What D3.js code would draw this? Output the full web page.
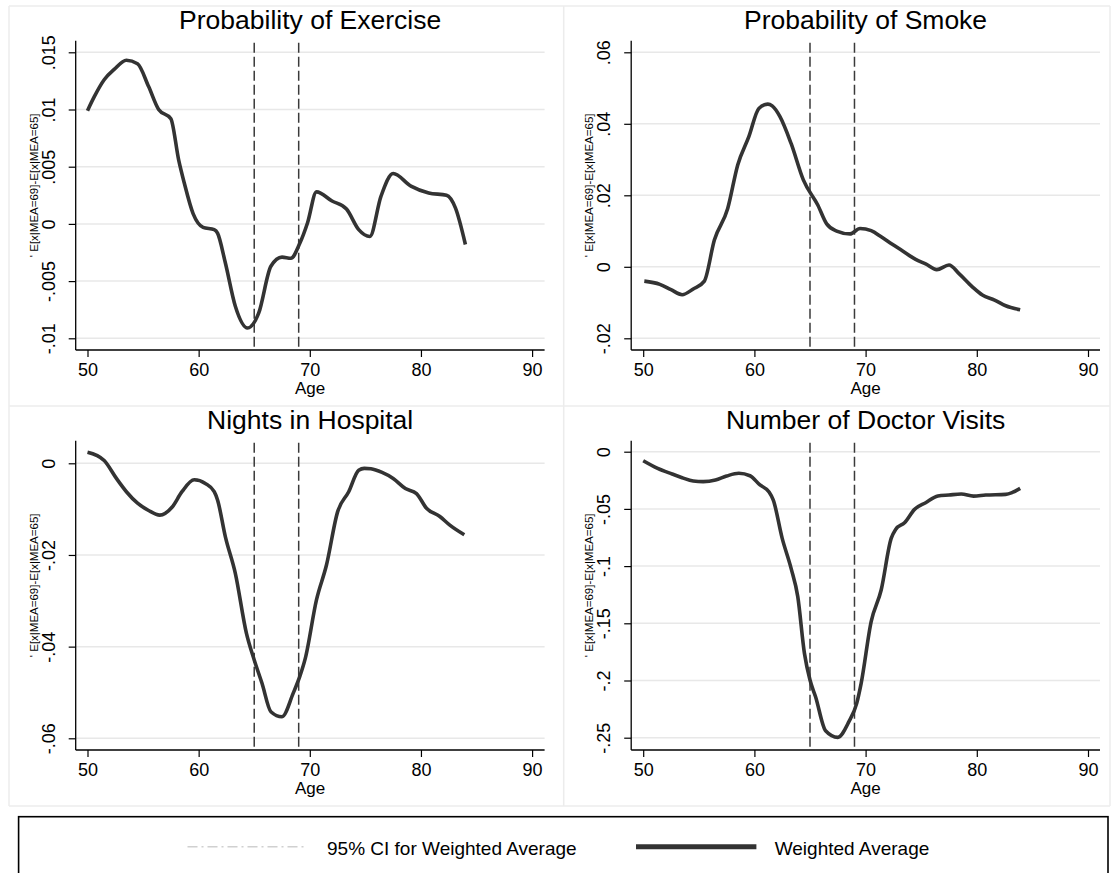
<!DOCTYPE html>
<html>
<head>
<meta charset="utf-8">
<script src="https://cdn.jsdelivr.net/npm/d3@7"></script>
<style>
  html, body { margin: 0; padding: 0; background: #fff; }
  svg { display: block; font-family: "Liberation Sans", Arial, sans-serif; }
</style>
</head>
<body>
<svg id="chart" width="1111" height="873"></svg>
<script>
// ---------------- DATA ----------------
const xTicks = [50, 60, 70, 80, 90];
const cutoffAges = [65, 69];

const exerciseAge = [50, 50.6, 51.5, 52.4, 53.5, 54.5, 55.5, 56.4, 57.5, 58.2, 58.7, 59.5, 60.4, 61.4, 61.7, 62.4, 63.3, 64.4, 65.4, 66.5, 67.5, 68.3, 69.1, 69.8, 70.6, 72.0, 73.3, 74.4, 75.4, 76.4, 77.5, 79.1, 80.7, 82.3, 83.1, 84.0];
const exerciseVal = [0.0099, 0.0111, 0.0126, 0.0135, 0.0143, 0.0140, 0.0120, 0.0100, 0.0092, 0.0056, 0.0036, 0.0009, -0.0003, -0.0005, -0.0008, -0.0034, -0.0072, -0.0091, -0.0078, -0.0037, -0.0029, -0.0030, -0.0017, 0.0001, 0.0028, 0.0020, 0.0013, -0.0005, -0.0011, 0.0024, 0.0044, 0.0033, 0.0027, 0.0025, 0.0014, -0.0018];
const exerciseTicks = [-0.01, -0.005, 0, 0.005, 0.01, 0.015];
const exerciseTickLabels = ["-.01", "-.005", "0", ".005", ".01", ".015"];

const smokeAge = [50.1, 51.5, 52.5, 53.5, 54.5, 55.5, 56.4, 57.6, 58.5, 59.5, 60.4, 61.2, 61.6, 62.3, 63.3, 64.4, 65.7, 66.5, 67.4, 68.6, 69.5, 70.5, 71.4, 72.4, 73.3, 74.5, 75.4, 76.4, 77.5, 78.4, 79.6, 80.5, 81.6, 82.6, 83.9];
const smokeVal = [-0.0040, -0.0049, -0.0064, -0.0078, -0.0062, -0.0040, 0.0075, 0.0163, 0.0285, 0.0364, 0.0443, 0.0455, 0.0450, 0.0420, 0.0345, 0.0243, 0.0173, 0.0120, 0.0100, 0.0092, 0.0107, 0.0101, 0.0084, 0.0063, 0.0045, 0.0021, 0.0008, -0.0008, 0.0005, -0.0019, -0.0056, -0.0079, -0.0093, -0.0109, -0.0120];
const smokeTicks = [-0.02, 0, 0.02, 0.04, 0.06];
const smokeTickLabels = ["-.02", "0", ".02", ".04", ".06"];

const hospitalAge = [50, 51.5, 52.6, 53.5, 54.5, 55.5, 56.5, 57.6, 58.5, 59.6, 60.6, 61.4, 61.7, 62.4, 63.3, 64.3, 65.0, 65.7, 66.5, 67.5, 68.5, 69.1, 69.6, 70.6, 71.5, 72.5, 73.5, 74.4, 74.9, 75.5, 76.5, 77.5, 78.6, 79.6, 80.5, 81.7, 82.6, 83.9];
const hospitalVal = [0.0024, 0.0006, -0.0033, -0.0062, -0.0087, -0.0103, -0.0113, -0.0096, -0.0062, -0.0036, -0.0044, -0.0062, -0.0080, -0.0160, -0.0240, -0.0371, -0.0429, -0.0480, -0.0542, -0.0553, -0.0502, -0.0465, -0.0425, -0.0298, -0.0222, -0.0106, -0.0062, -0.0015, -0.0011, -0.0012, -0.0020, -0.0033, -0.0055, -0.0066, -0.0098, -0.0116, -0.0135, -0.0156];
const hospitalTicks = [-0.06, -0.04, -0.02, 0];
const hospitalTickLabels = ["-.06", "-.04", "-.02", "0"];

const doctorAge = [50, 51.3, 52.6, 53.5, 54.5, 55.4, 56.5, 57.5, 58.6, 59.6, 60.5, 61.3, 61.7, 62.5, 63.3, 63.9, 64.5, 65.0, 65.5, 66.4, 67.5, 68.5, 69.2, 69.6, 70.5, 71.4, 72.3, 72.7, 73.5, 74.4, 75.4, 76.5, 77.5, 78.6, 79.7, 80.8, 82.6, 83.2, 83.9];
const doctorVal = [-0.0079, -0.0146, -0.0195, -0.0227, -0.0256, -0.0262, -0.0248, -0.0213, -0.0189, -0.0210, -0.0291, -0.0350, -0.0423, -0.0758, -0.1020, -0.1267, -0.1763, -0.1996, -0.2142, -0.2439, -0.2497, -0.2360, -0.2200, -0.2025, -0.1486, -0.1209, -0.0758, -0.0679, -0.0621, -0.0504, -0.0446, -0.0388, -0.0379, -0.0370, -0.0388, -0.0379, -0.0373, -0.0356, -0.0321];
const doctorTicks = [-0.25, -0.2, -0.15, -0.1, -0.05, 0];
const doctorTickLabels = ["-.25", "-.2", "-.15", "-.1", "-.05", "0"];

const panelTitles = ["Probability of Exercise", "Probability of Smoke", "Nights in Hospital", "Number of Doctor Visits"];
const xTitle = "Age";
const yTitle = "' E[x|MEA=69]-E[x|MEA=65]";
const legendLabels = ["95% CI for Weighted Average", "Weighted Average"];

// ---------------- LAYOUT ----------------
const svg = d3.select("#chart");
const FONT = '"Liberation Sans", Arial, sans-serif';
const LINE_COLOR = "#333333";

// panel cell borders (Stata graph combine)
const borderColor = "#ececec";
[9, 563.7, 1110].forEach(x => svg.append("line").attr("x1", x).attr("x2", x).attr("y1", 6).attr("y2", 806)
  .attr("stroke", borderColor).attr("stroke-width", 1.5));
[6, 406, 806].forEach(y => svg.append("line").attr("x1", 9).attr("x2", 1110).attr("y1", y).attr("y2", y)
  .attr("stroke", borderColor).attr("stroke-width", 1.5));

const panels = [
  { title: panelTitles[0], ages: exerciseAge, vals: exerciseVal, ticks: exerciseTicks, labels: exerciseTickLabels,
    oy: 0, axisX: 75.7, rightX: 544.6, x50: 87.5, x90: 532.1, yLoPx: 338.3, yHiPx: 52.3 },
  { title: panelTitles[1], ages: smokeAge, vals: smokeVal, ticks: smokeTicks, labels: smokeTickLabels,
    oy: 0, axisX: 631.2, rightX: 1100, x50: 643.2, x90: 1088, yLoPx: 338.3, yHiPx: 52.3 },
  { title: panelTitles[2], ages: hospitalAge, vals: hospitalVal, ticks: hospitalTicks, labels: hospitalTickLabels,
    oy: 400, axisX: 75.7, rightX: 544.6, x50: 87.5, x90: 532.1, yLoPx: 338.3, yHiPx: 63.3 },
  { title: panelTitles[3], ages: doctorAge, vals: doctorVal, ticks: doctorTicks, labels: doctorTickLabels,
    oy: 400, axisX: 631.2, rightX: 1100, x50: 643.2, x90: 1088, yLoPx: 337.7, yHiPx: 51.7 }
];

panels.forEach(p => {
  const g = svg.append("g").attr("transform", `translate(0,${p.oy})`);
  const top = 40.7, bottom = 350;
  const x = d3.scaleLinear().domain([50, 90]).range([p.x50, p.x90]);
  const y = d3.scaleLinear().domain([p.ticks[0], p.ticks[p.ticks.length - 1]]).range([p.yLoPx, p.yHiPx]);

  // gridlines
  g.append("g").selectAll("line").data(p.ticks).join("line")
    .attr("x1", p.axisX).attr("x2", p.rightX)
    .attr("y1", d => y(d)).attr("y2", d => y(d))
    .attr("stroke", "#e8e8e8").attr("stroke-width", 1.5);

  // y axis
  const yAxis = d3.axisLeft(y).tickValues(p.ticks).tickSize(7)
    .tickFormat((d, i) => p.labels[i]);
  const ya = g.append("g").attr("transform", `translate(${p.axisX},0)`).call(yAxis);
  ya.select(".domain").remove();
  ya.selectAll(".tick line").attr("stroke", "#000").attr("stroke-width", 1.2);
  ya.selectAll(".tick text")
    .attr("transform", "rotate(-90)")
    .attr("x", 0).attr("y", -21).attr("dy", null)
    .attr("text-anchor", "middle")
    .attr("font-family", FONT).attr("font-size", 18).attr("fill", "#000");
  g.append("line").attr("x1", p.axisX).attr("x2", p.axisX).attr("y1", top).attr("y2", bottom)
    .attr("stroke", "#000").attr("stroke-width", 1.3);

  // x axis
  const xAxis = d3.axisBottom(x).tickValues(xTicks).tickSize(7).tickPadding(6).tickFormat(d3.format("d"));
  const xa = g.append("g").attr("transform", `translate(0,${bottom})`).call(xAxis);
  xa.select(".domain").remove();
  xa.selectAll(".tick line").attr("stroke", "#000").attr("stroke-width", 1.2);
  xa.selectAll(".tick text").attr("font-family", FONT).attr("font-size", 18).attr("fill", "#000");
  g.append("line").attr("x1", p.axisX).attr("x2", p.rightX).attr("y1", bottom).attr("y2", bottom)
    .attr("stroke", "#000").attr("stroke-width", 1.3);

  // cutoff dashed lines
  g.append("g").selectAll("line").data(cutoffAges).join("line")
    .attr("x1", d => x(d)).attr("x2", d => x(d)).attr("y1", top + 2).attr("y2", bottom)
    .attr("stroke", "#3a3a3a").attr("stroke-width", 1.5).attr("stroke-dasharray", "10,4");

  // curve
  const pts = p.ages.map((a, i) => [a, p.vals[i]]);
  g.append("path").datum(pts)
    .attr("d", d3.line().x(d => x(d[0])).y(d => y(d[1])).curve(d3.curveMonotoneX))
    .attr("fill", "none").attr("stroke", LINE_COLOR).attr("stroke-width", 3.6)
    .attr("stroke-linejoin", "round");

  // titles
  const cx = (p.axisX + p.rightX) / 2;
  g.append("text").attr("x", cx).attr("y", 28.5).attr("text-anchor", "middle")
    .attr("font-family", FONT).attr("font-size", 26.5).attr("fill", "#000").text(p.title);
  g.append("text").attr("x", cx).attr("y", 394).attr("text-anchor", "middle")
    .attr("font-family", FONT).attr("font-size", 17).attr("fill", "#000").text(xTitle);
  g.append("text").attr("transform", `translate(${p.axisX - 38},${(top + bottom) / 2 - 10}) rotate(-90)`)
    .attr("text-anchor", "middle")
    .attr("font-family", FONT).attr("font-size", 11.5).attr("fill", "#000").text(yTitle);
});

// ---------------- LEGEND ----------------
const leg = svg.append("g");
leg.append("rect").attr("x", 18.6).attr("y", 816.7).attr("width", 1089.4).attr("height", 70)
  .attr("fill", "#fff").attr("stroke", "#000").attr("stroke-width", 1.6);
leg.append("line").attr("x1", 187.5).attr("x2", 307).attr("y1", 846.7).attr("y2", 846.7)
  .attr("stroke", "#d0d0d0").attr("stroke-width", 1.5).attr("stroke-dasharray", "10,4,2,4");
leg.append("text").attr("x", 327).attr("y", 855).attr("font-family", FONT).attr("font-size", 19)
  .attr("fill", "#000").text(legendLabels[0]);
leg.append("line").attr("x1", 636).attr("x2", 756.4).attr("y1", 846.7).attr("y2", 846.7)
  .attr("stroke", LINE_COLOR).attr("stroke-width", 5);
leg.append("text").attr("x", 774.7).attr("y", 855).attr("font-family", FONT).attr("font-size", 19)
  .attr("fill", "#000").text(legendLabels[1]);
</script>
</body>
</html>
